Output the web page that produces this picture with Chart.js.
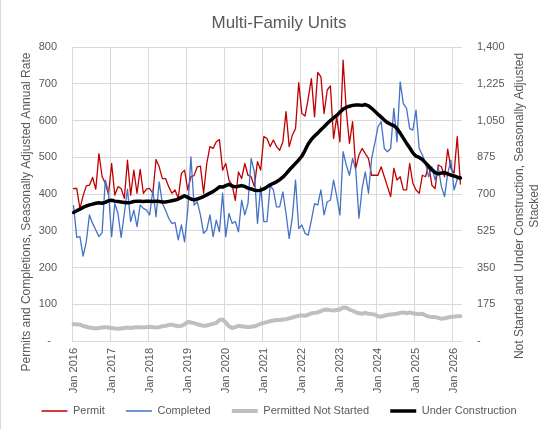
<!DOCTYPE html>
<html>
<head>
<meta charset="utf-8">
<title>Multi-Family Units</title>
<script src="https://cdn.jsdelivr.net/npm/chart.js@4.4.1/dist/chart.umd.min.js"></script>
<style>
  html, body { margin: 0; padding: 0; background: #fff; }
  #wrap { width: 558px; height: 429px; position: relative; }
</style>
</head>
<body>
<div id="wrap"><canvas id="mfChart"></canvas></div>
<script>
// monthly, Jan 2016 - Mar 2026
const years = [2016, 2017, 2018, 2019, 2020, 2021, 2022, 2023, 2024, 2025, 2026];
const monthNames = ["Jan", "Feb", "Mar", "Apr", "May", "Jun", "Jul", "Aug", "Sep", "Oct", "Nov", "Dec"];
const lastMonth = 3; // Mar 2026

// left axis (thousands, SAAR)
const permit = [
  415, 415, 360, 395, 422, 424, 445, 413, 510, 447, 429, 399,
  483, 397, 420, 415, 388, 492, 397, 465, 402, 467, 402, 413,
  415, 402, 494, 474, 442, 442, 420, 402, 411, 388, 456, 465,
  411, 447, 450, 474, 476, 402, 483, 529, 524, 542, 548, 465,
  483, 438, 424, 383, 460, 442, 483, 451, 447, 420, 488, 465,
  556, 551, 529, 547, 529, 519, 542, 624, 529, 560, 578, 703,
  619, 612, 660, 714, 610, 731, 719, 619, 683, 694, 551, 610,
  542, 764, 628, 538, 597, 470, 506, 524, 510, 497, 451, 451,
  451, 474, 447, 420, 393, 470, 438, 447, 411, 411, 483, 429,
  411, 402, 451, 447, 479, 424, 415, 479, 474, 447, 522, 470,
  457, 556, 427
];
const completed = [
  368, 282, 284, 231, 270, 343, 320, 302, 284, 295, 438, 406,
  284, 374, 347, 282, 347, 413, 325, 356, 311, 370, 361, 356,
  343, 411, 338, 433, 374, 356, 334, 320, 322, 275, 316, 270,
  356, 501, 370, 379, 343, 293, 302, 343, 284, 329, 297, 402,
  284, 347, 320, 325, 297, 383, 343, 374, 497, 460, 320, 420,
  325, 325, 424, 411, 365, 365, 406, 347, 279, 338, 438, 306,
  316, 293, 288, 329, 374, 370, 411, 343, 379, 383, 438, 393,
  343, 515, 479, 451, 497, 465, 334, 415, 460, 402, 497, 538,
  583, 597, 524, 515, 524, 633, 542, 705, 646, 633, 578, 574,
  628, 524, 506, 483, 447, 474, 438, 474, 420, 393, 456, 492,
  411, 440, 447
];

// right axis (thousands, SA)
const notStarted = [
  80, 80, 78, 72, 68, 64, 62, 60, 62, 64, 66, 64,
  62, 60, 58, 60, 62, 64, 62, 64, 66, 66, 64, 66,
  68, 66, 64, 66, 70, 72, 76, 78, 74, 70, 72, 80,
  90, 88, 85, 80, 76, 72, 74, 78, 82, 86, 100, 102,
  88, 70, 62, 66, 72, 70, 68, 66, 68, 70, 76, 82,
  86, 90, 95, 98, 100, 100, 102, 104, 108, 112, 116, 120,
  122, 120, 126, 132, 134, 136, 142, 148, 150, 147, 145, 148,
  150, 160, 158, 150, 144, 138, 132, 130, 134, 130, 128, 126,
  118, 116, 120, 124, 126, 128, 130, 134, 136, 132, 136, 132,
  130, 128, 130, 122, 116, 114, 114, 110, 106, 108, 112, 114,
  116, 118, 118
];
const underConstruction = [
  612, 620, 628, 636, 643, 648, 652, 656, 658, 656, 660, 668,
  670, 666, 664, 662, 660, 658, 660, 664, 666, 665, 664, 666,
  665, 664, 666, 664, 662, 662, 665, 668, 671, 676, 684, 692,
  684, 676, 672, 676, 682, 688, 696, 704, 712, 722, 734, 733,
  740, 746, 738, 734, 737, 740, 736, 728, 724, 718, 716, 718,
  724, 734, 744, 751, 758, 768, 780, 796, 814, 830, 846, 862,
  880, 908, 938, 960, 976, 990, 1006, 1020, 1036, 1050, 1062, 1074,
  1090, 1104, 1112, 1118, 1122, 1124, 1124, 1122, 1126, 1120, 1108, 1094,
  1080, 1066, 1052, 1040, 1032, 1026, 1012, 990, 966, 942, 920, 896,
  880, 874, 864, 848, 832, 816, 802, 796, 800, 802, 796, 790,
  786, 780, 776
];

const leftAxisTitle = "Permits and Completions, Seasonally Adjusted Annual Rate";
const rightAxisTitle = ["Not Started and Under Construction, Seasonally Adjusted", "Stacked"];

const labels = [];
years.forEach(y => {
  monthNames.forEach((m, i) => {
    if (y < years[years.length - 1] || i < lastMonth) labels.push(m + " " + y);
  });
});

const textColor = "#595959";
const gridColor = "#d9d9d9";
const fontFamily = "'Liberation Sans', Arial, sans-serif";

// axis titles drawn by hand so both read bottom-to-top like the original
const axisTitles = {
  id: "axisTitles",
  afterDraw(chart) {
    const ctx = chart.ctx;
    const area = chart.chartArea;
    const midY = (area.top + area.bottom) / 2;
    ctx.save();
    ctx.fillStyle = textColor;
    ctx.font = "12px " + fontFamily;
    ctx.textAlign = "center";
    ctx.textBaseline = "middle";

    ctx.save();
    ctx.translate(27, midY + 18);
    ctx.rotate(-Math.PI / 2);
    ctx.fillText(leftAxisTitle, 0, 0);
    ctx.restore();

    ctx.save();
    ctx.translate(chart.scales.y1.right - 38, midY + 12);
    ctx.rotate(-Math.PI / 2);
    ctx.fillText(rightAxisTitle[0], 0, 0);
    ctx.fillText(rightAxisTitle[1], 0, 15);
    ctx.restore();

    // thin chart border on the left
    ctx.strokeStyle = gridColor;
    ctx.lineWidth = 1;
    ctx.beginPath();
    ctx.moveTo(0.5, 0);
    ctx.lineTo(0.5, chart.height);
    ctx.stroke();
    ctx.restore();
  }
};

new Chart(document.getElementById("mfChart"), {
  type: "line",
  data: {
    labels,
    datasets: [
      { label: "Permit", data: permit, yAxisID: "y", borderColor: "#c00000", borderWidth: 1.3, order: 3 },
      { label: "Completed", data: completed, yAxisID: "y", borderColor: "#4472c4", borderWidth: 1.3, order: 2 },
      { label: "Permitted Not Started", data: notStarted, yAxisID: "y1", borderColor: "#bfbfbf", borderWidth: 4, order: 1 },
      { label: "Under Construction", data: underConstruction, yAxisID: "y1", borderColor: "#000000", borderWidth: 3.5, order: 0 }
    ]
  },
  options: {
    responsive: true,
    maintainAspectRatio: false,
    animation: false,
    elements: {
      point: { radius: 0 },
      line: { tension: 0, borderJoinStyle: "round", borderCapStyle: "round" }
    },
    layout: { padding: { left: 0, right: 0, top: 0, bottom: 2.5 } },
    plugins: {
      title: {
        display: true,
        text: "Multi-Family Units",
        color: textColor,
        font: { family: fontFamily, size: 17, weight: "normal" },
        padding: { top: 13, bottom: 13.6 }
      },
      legend: {
        position: "bottom",
        labels: {
          color: textColor,
          font: { family: fontFamily, size: 11 },
          usePointStyle: true,
          pointStyleWidth: 26,
          padding: 12,
          generateLabels(chart) {
            const sets = chart.data.datasets;
            // trailing spaces widen the gap between entries
            return sets.map((ds, i) => ({
              text: i < sets.length - 1 ? ds.label + "\u00a0\u00a0\u00a0" : ds.label,
              strokeStyle: ds.borderColor,
              fillStyle: ds.borderColor,
              lineWidth: ds.borderWidth,
              pointStyle: "line",
              fontColor: textColor,
              hidden: false,
              datasetIndex: i
            }));
          }
        }
      },
      tooltip: { enabled: false }
    },
    scales: {
      x: {
        type: "category",
        offset: true,
        border: { display: false },
        grid: {
          offset: true,
          drawTicks: false,
          color: ctx => (ctx.index % 12 === 0 ? gridColor : "rgba(0,0,0,0)")
        },
        ticks: {
          autoSkip: false,
          maxRotation: 90,
          minRotation: 90,
          padding: 7,
          color: textColor,
          font: { family: fontFamily, size: 11 },
          callback: (val, i) => (i % 12 === 0 ? labels[i] : "")
        },
        afterFit: scale => { scale.height = 52.5; }
      },
      y: {
        position: "left",
        min: 0,
        max: 800,
        border: { display: false },
        grid: { color: gridColor, drawTicks: false },
        ticks: {
          stepSize: 100,
          padding: 15,
          color: textColor,
          font: { family: fontFamily, size: 11 },
          callback: v => (v === 0 ? "-  " : v)
        },
        afterFit: scale => { scale.width = 72; }
      },
      y1: {
        position: "right",
        min: 0,
        max: 1400,
        border: { display: false },
        grid: { display: false, drawTicks: false },
        ticks: {
          stepSize: 175,
          padding: 15,
          color: textColor,
          font: { family: fontFamily, size: 11 },
          callback: v => (v === 0 ? "-" : v.toLocaleString("en-US"))
        },
        afterFit: scale => { scale.width = 96; }
      }
    }
  },
  plugins: [axisTitles]
});
</script>
</body>
</html>
